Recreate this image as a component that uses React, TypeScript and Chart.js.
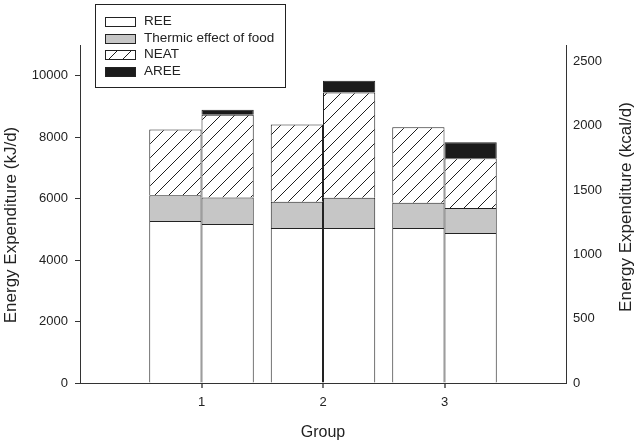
import React, { useEffect, useRef } from 'react';
import { Chart, registerables } from 'chart.js';

Chart.register(...registerables);

// ---- data (kJ/d) ----
const groups = [1, 2, 3];
const xTicks = [1, 2, 3];
const yTicksKJ = [0, 2000, 4000, 6000, 8000, 10000];
const yTicksKcal = [0, 500, 1000, 1500, 2000, 2500];
const seriesLabels = ['REE', 'Thermic effect of food', 'NEAT', 'AREE'];
const reeFirst = [5270, 5042, 5042];
const reeSecond = [5172, 5042, 4880];
const tefFirst = [844, 857, 825];
const tefSecond = [867, 987, 812];
const neatFirst = [2133, 2510, 2453];
const neatSecond = [2695, 3429, 1623];
const areeFirst: (number | null)[] = [null, null, null];
const areeSecond = [162, 380, 519];

const xTitle = 'Group';
const yTitleLeft = 'Energy Expenditure (kJ/d)';
const yTitleRight = 'Energy Expenditure (kcal/d)';

const KJ_PER_KCAL = 4.184;
const Y_MAX_KJ = 11000;
const X_MIN = 0;
const X_MAX = 4;
const BAR_HALF = 0.215; // half bar width in axis units (layout)

const FONT = '"Liberation Sans", Arial, Helvetica, sans-serif';
const TEXT = '#222';
const EDGE = '#222';
const AXIS = '#333';

function pairs(first: (number | null)[], second: (number | null)[]) {
  const out: { x: number; y: number | null }[] = [];
  groups.forEach((g, i) => {
    out.push({ x: g - BAR_HALF, y: first[i] });
    out.push({ x: g + BAR_HALF, y: second[i] });
  });
  return out;
}

function makeHatch(): CanvasPattern | string {
  const s = 14;
  const c = document.createElement('canvas');
  c.width = s;
  c.height = s;
  const g = c.getContext('2d');
  if (!g) return '#fff';
  g.fillStyle = '#fff';
  g.fillRect(0, 0, s, s);
  g.strokeStyle = '#1e1e1e';
  g.lineWidth = 1;
  g.beginPath();
  g.moveTo(-1, 1);
  g.lineTo(1, -1);
  g.moveTo(0, s);
  g.lineTo(s, 0);
  g.moveTo(s - 1, s + 1);
  g.lineTo(s + 1, s - 1);
  g.stroke();
  const p = g.createPattern(c, 'repeat');
  return p || '#fff';
}

const boxLegendPlugin = {
  id: 'boxLegend',
  afterDraw(chart: any) {
    const ctx: CanvasRenderingContext2D = chart.ctx;
    ctx.save();
    // legend box
    ctx.fillStyle = '#fff';
    ctx.strokeStyle = EDGE;
    ctx.lineWidth = 1;
    ctx.fillRect(95.5, 4.5, 190, 83);
    ctx.strokeRect(95.5, 4.5, 190, 83);
    chart.data.datasets.forEach((ds: any, i: number) => {
      const cy = 21.5 + i * 16.6;
      ctx.fillStyle = ds.backgroundColor;
      ctx.fillRect(105.5, Math.round(cy - 4.5) + 0.5, 30, 9);
      ctx.strokeStyle = EDGE;
      ctx.strokeRect(105.5, Math.round(cy - 4.5) + 0.5, 30, 9);
      ctx.fillStyle = TEXT;
      ctx.font = `13.5px ${FONT}`;
      ctx.textBaseline = 'middle';
      ctx.textAlign = 'left';
      ctx.fillText(ds.label, 144, cy);
    });
    // y axis titles (both read bottom-to-top)
    ctx.font = `17px ${FONT}`;
    ctx.fillStyle = TEXT;
    ctx.textAlign = 'center';
    ctx.textBaseline = 'middle';
    ctx.save();
    ctx.translate(11, 225);
    ctx.rotate(-Math.PI / 2);
    ctx.fillText(yTitleLeft, 0, 0);
    ctx.restore();
    ctx.save();
    ctx.translate(626, 207);
    ctx.rotate(-Math.PI / 2);
    ctx.fillText(yTitleRight, 0, 0);
    ctx.restore();
    ctx.restore();
  },
};

export default function App() {
  const ref = useRef<HTMLCanvasElement | null>(null);

  useEffect(() => {
    if (!ref.current) return;
    const hatch = makeHatch();
    const common = {
      borderColor: EDGE,
      borderWidth: 1,
      borderSkipped: 'start' as const,
      inflateAmount: 0,
      barPercentage: 1,
      categoryPercentage: 1,
      stack: 'energy',
    };
    const chart = new Chart(ref.current, {
      type: 'bar',
      data: {
        datasets: [
          { ...common, label: seriesLabels[0], data: pairs(reeFirst, reeSecond), backgroundColor: '#ffffff' },
          { ...common, label: seriesLabels[1], data: pairs(tefFirst, tefSecond), backgroundColor: '#c6c6c6' },
          { ...common, label: seriesLabels[2], data: pairs(neatFirst, neatSecond), backgroundColor: hatch as any },
          { ...common, label: seriesLabels[3], data: pairs(areeFirst, areeSecond), backgroundColor: '#1b1b1b' },
        ] as any,
      },
      options: {
        animation: false,
        responsive: true,
        maintainAspectRatio: false,
        events: [],
        layout: { padding: { top: 45, left: 0, right: 0, bottom: 0 } },
        plugins: {
          legend: { display: false },
          tooltip: { enabled: false },
        },
        scales: {
          x: {
            type: 'linear',
            min: X_MIN,
            max: X_MAX,
            offset: false,
            stacked: true,
            afterBuildTicks: (s: any) => {
              s.ticks = xTicks.map((v) => ({ value: v }));
            },
            afterFit: (s: any) => {
              s.height = 61;
            },
            ticks: {
              callback: (v: any) => String(v),
              font: { family: FONT, size: 13 },
              color: TEXT,
              padding: 7,
              maxRotation: 0,
            },
            grid: {
              drawOnChartArea: false,
              drawTicks: true,
              tickLength: 5,
              color: '#777',
              lineWidth: 2,
              offset: false,
            },
            border: { color: AXIS, width: 1 },
            title: {
              display: true,
              text: xTitle,
              font: { family: FONT, size: 16 },
              color: TEXT,
              padding: { top: 0, bottom: 2 },
            },
          },
          y: {
            type: 'linear',
            position: 'left',
            min: 0,
            max: Y_MAX_KJ,
            stacked: true,
            afterBuildTicks: (s: any) => {
              s.ticks = yTicksKJ.map((v) => ({ value: v }));
            },
            afterFit: (s: any) => {
              s.width = 80;
            },
            ticks: {
              callback: (v: any) => String(v),
              font: { family: FONT, size: 13 },
              color: TEXT,
              padding: 7,
            },
            grid: {
              drawOnChartArea: false,
              drawTicks: true,
              tickLength: 5,
              color: AXIS,
            },
            border: { color: AXIS, width: 1 },
          },
          y2: {
            type: 'linear',
            position: 'right',
            min: 0,
            max: Y_MAX_KJ / KJ_PER_KCAL,
            afterBuildTicks: (s: any) => {
              s.ticks = yTicksKcal.map((v) => ({ value: v }));
            },
            afterFit: (s: any) => {
              s.width = 71;
            },
            ticks: {
              callback: (v: any) => String(v),
              font: { family: FONT, size: 13 },
              color: TEXT,
              padding: 7,
            },
            grid: {
              drawOnChartArea: false,
              drawTicks: false,
            },
            border: { color: AXIS, width: 1 },
          },
        },
      } as any,
      plugins: [boxLegendPlugin],
    });
    return () => chart.destroy();
  }, []);

  return (
    <div style={{ position: 'fixed', left: 0, top: 0, width: 637, height: 444, background: '#fff' }}>
      <canvas ref={ref} />
    </div>
  );
}
